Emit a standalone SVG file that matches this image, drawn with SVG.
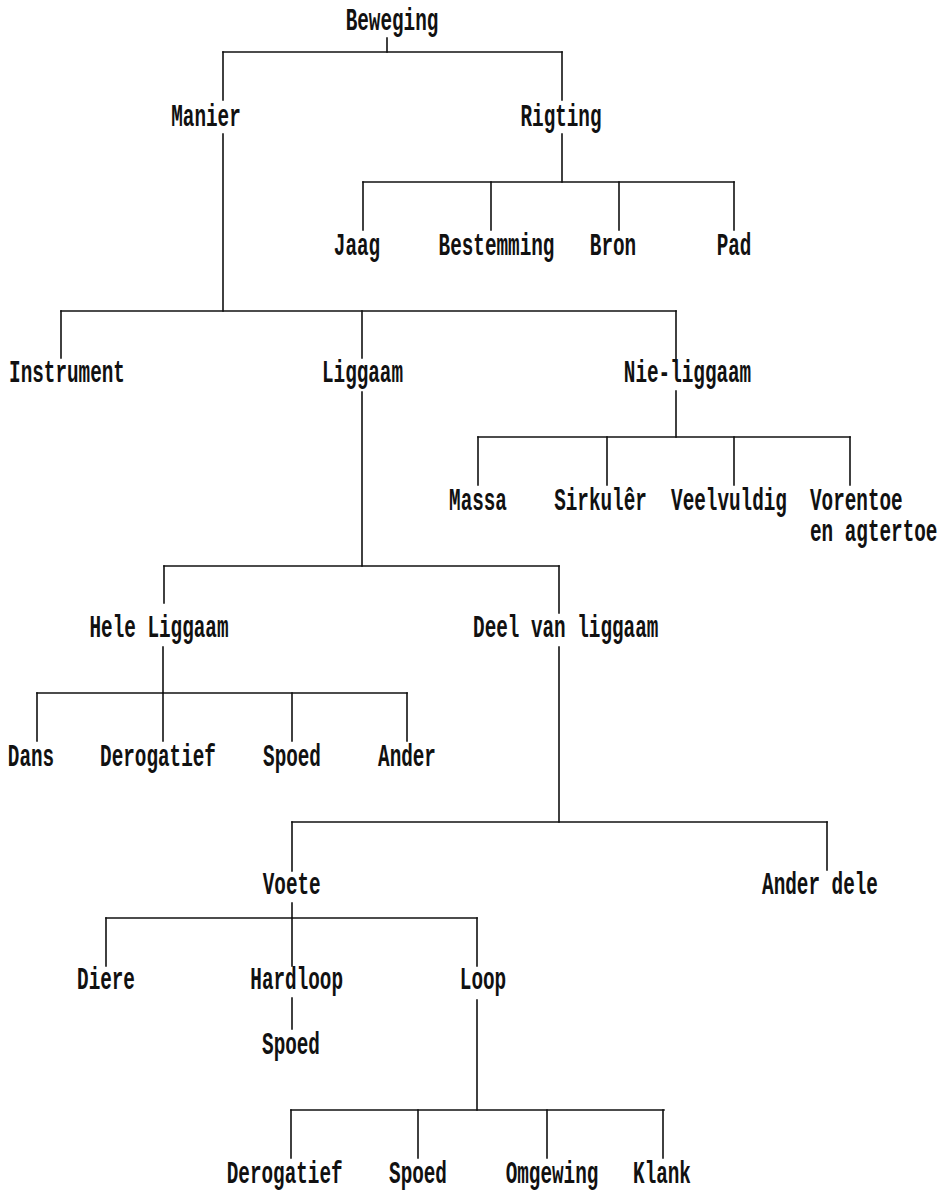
<svg xmlns="http://www.w3.org/2000/svg" width="939" height="1191" viewBox="0 0 939 1191">
<style>
  .bg { fill: #ffffff; }
  .node text { font-family: "Liberation Mono", "DejaVu Sans Mono", monospace; font-size: 19.3px; font-weight: bold; fill: #111; text-anchor: middle; }
  .node text.left { text-anchor: start; }
  #connectors path { fill: none; stroke: #111; stroke-width: 1.6; stroke-linecap: square; }
</style>
<rect class="bg" x="0" y="0" width="939" height="1191"/>
<g id="connectors">
  <path d="M387,38 V52"/>
  <path d="M223,52 H562"/>
  <path d="M223,52 V100"/>
  <path d="M562,52 V100"/>
  <path d="M562,134 V182"/>
  <path d="M363,182 H734"/>
  <path d="M363,182 V230"/>
  <path d="M491,182 V230"/>
  <path d="M619,182 V230"/>
  <path d="M734,182 V230"/>
  <path d="M223,134 V311"/>
  <path d="M61,311 H676"/>
  <path d="M61,311 V358"/>
  <path d="M362,311 V358"/>
  <path d="M676,311 V362"/>
  <path d="M676,391 V437"/>
  <path d="M478,437 H850"/>
  <path d="M478,437 V485"/>
  <path d="M607,437 V485"/>
  <path d="M734,437 V485"/>
  <path d="M850,437 V485"/>
  <path d="M362,392 V566"/>
  <path d="M164,566 H559"/>
  <path d="M164,566 V603"/>
  <path d="M559,566 V613"/>
  <path d="M163,647 V693"/>
  <path d="M37,693 H407"/>
  <path d="M37,693 V741"/>
  <path d="M163,693 V741"/>
  <path d="M292,693 V741"/>
  <path d="M407,693 V741"/>
  <path d="M559,647 V822"/>
  <path d="M292,822 H827"/>
  <path d="M292,822 V871"/>
  <path d="M827,822 V870"/>
  <path d="M292,903 V918"/>
  <path d="M106,918 H477"/>
  <path d="M106,918 V966"/>
  <path d="M292,918 V966"/>
  <path d="M477,918 V966"/>
  <path d="M292,998 V1029"/>
  <path d="M477,1000 V1110"/>
  <path d="M291,1110 H664"/>
  <path d="M291,1110 V1158"/>
  <path d="M418,1110 V1158"/>
  <path d="M547,1110 V1158"/>
  <path d="M663,1110 V1158"/>
</g>
<g id="n-beweging" class="node" transform="translate(392,30) scale(1,1.65)"><text>Beweging</text></g>
<g id="n-manier" class="node" transform="translate(206,126) scale(1,1.65)"><text>Manier</text></g>
<g id="n-rigting" class="node" transform="translate(561,126) scale(1,1.65)"><text>Rigting</text></g>
<g id="n-jaag" class="node" transform="translate(357,255) scale(1,1.65)"><text>Jaag</text></g>
<g id="n-bestemming" class="node" transform="translate(496.5,255) scale(1,1.65)"><text>Bestemming</text></g>
<g id="n-bron" class="node" transform="translate(613,255) scale(1,1.65)"><text>Bron</text></g>
<g id="n-pad" class="node" transform="translate(734,255) scale(1,1.65)"><text>Pad</text></g>
<g id="n-instrument" class="node" transform="translate(67,382) scale(1,1.65)"><text>Instrument</text></g>
<g id="n-liggaam" class="node" transform="translate(362.5,382) scale(1,1.65)"><text>Liggaam</text></g>
<g id="n-nieliggaam" class="node" transform="translate(687.5,382) scale(1,1.65)"><text>Nie-liggaam</text></g>
<g id="n-massa" class="node" transform="translate(478,510) scale(1,1.65)"><text>Massa</text></g>
<g id="n-sirkuler" class="node" transform="translate(600.5,510) scale(1,1.65)"><text>Sirkulêr</text></g>
<g id="n-veelvuldig" class="node" transform="translate(729,510) scale(1,1.65)"><text>Veelvuldig</text></g>
<g id="n-vorentoe" class="node" transform="translate(810,510) scale(1,1.65)"><text class="left">Vorentoe</text><text class="left" y="18.6">en agtertoe</text></g>
<g id="n-heleliggaam" class="node" transform="translate(159,637) scale(1,1.65)"><text>Hele Liggaam</text></g>
<g id="n-deelvanliggaam" class="node" transform="translate(565.7,637) scale(1,1.65)"><text>Deel van liggaam</text></g>
<g id="n-dans" class="node" transform="translate(31,766) scale(1,1.65)"><text>Dans</text></g>
<g id="n-derogatief1" class="node" transform="translate(158,766) scale(1,1.65)"><text>Derogatief</text></g>
<g id="n-spoed1" class="node" transform="translate(292,766) scale(1,1.65)"><text>Spoed</text></g>
<g id="n-ander" class="node" transform="translate(407,766) scale(1,1.65)"><text>Ander</text></g>
<g id="n-voete" class="node" transform="translate(291.7,894) scale(1,1.65)"><text>Voete</text></g>
<g id="n-anderdele" class="node" transform="translate(820,894) scale(1,1.65)"><text>Ander dele</text></g>
<g id="n-diere" class="node" transform="translate(106,989) scale(1,1.65)"><text>Diere</text></g>
<g id="n-hardloop" class="node" transform="translate(296.7,989) scale(1,1.65)"><text>Hardloop</text></g>
<g id="n-loop" class="node" transform="translate(483,989) scale(1,1.65)"><text>Loop</text></g>
<g id="n-spoed2" class="node" transform="translate(291,1054) scale(1,1.65)"><text>Spoed</text></g>
<g id="n-derogatief2" class="node" transform="translate(284.7,1183) scale(1,1.65)"><text>Derogatief</text></g>
<g id="n-spoed3" class="node" transform="translate(418,1183) scale(1,1.65)"><text>Spoed</text></g>
<g id="n-omgewing" class="node" transform="translate(552,1183) scale(1,1.65)"><text>Omgewing</text></g>
<g id="n-klank" class="node" transform="translate(662,1183) scale(1,1.65)"><text>Klank</text></g>
</svg>
